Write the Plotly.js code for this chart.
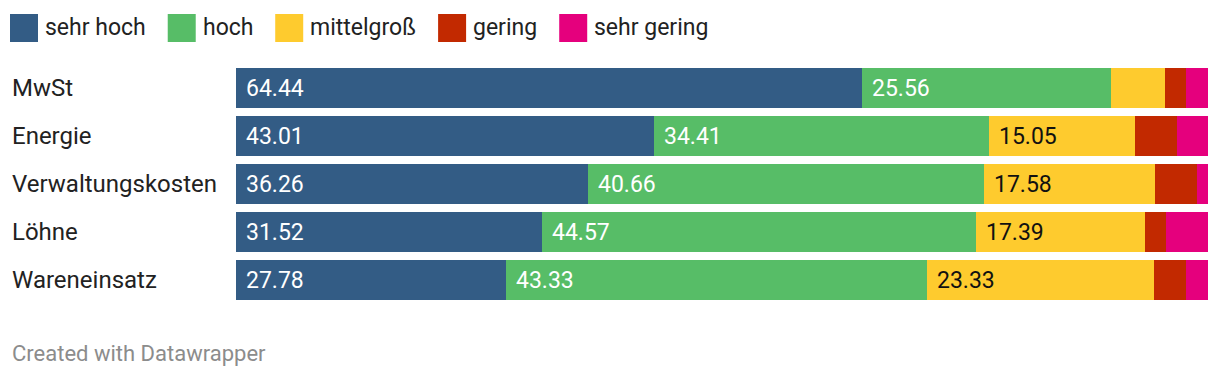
<!DOCTYPE html>
<html>
<head>
<meta charset="utf-8">
<script src="https://cdn.plot.ly/plotly-3.0.1.min.js"></script>
<style>
  html, body { margin: 0; padding: 0; background: #fff; }
  #chart { width: 1220px; height: 378px; }
</style>
</head>
<body>
<div id="chart"></div>
<script>
// ---- Data ----
const categories = ['MwSt', 'Energie', 'Verwaltungskosten', 'Löhne', 'Wareneinsatz'];
const seriesNames = ['sehr hoch', 'hoch', 'mittelgroß', 'gering', 'sehr gering'];
const sehrHoch = [64.44, 43.01, 36.26, 31.52, 27.78];
const hoch = [25.56, 34.41, 40.66, 44.57, 43.33];
const mittelgross = [5.56, 15.05, 17.58, 17.39, 23.33];
const gering = [2.22, 4.30, 4.40, 2.17, 3.33];
const sehrGering = [2.22, 3.23, 1.10, 4.35, 2.22];
const footerText = 'Created with Datawrapper';

// ---- Styling ----
const seriesValues = [sehrHoch, hoch, mittelgross, gering, sehrGering];
const colors = ['#335c85', '#57bd67', '#fecb2e', '#c22900', '#e5007d'];
const labelColors = ['#ffffff', '#ffffff', '#111111', '#ffffff', '#ffffff'];
const FONT = 'Roboto, "Noto Sans", sans-serif';
const W = 1220, H = 378;
const M = { l: 236, r: 12, t: 64, b: 74 };
const plotW = W - M.l - M.r, plotH = H - M.t - M.b;
const pxToPaperX = px => (px - M.l) / plotW;
const pxToPaperY = py => (H - M.b - py) / plotH;

const traces = seriesValues.map((vals, i) => ({
  type: 'bar',
  orientation: 'h',
  name: seriesNames[i],
  y: categories,
  x: vals,
  marker: { color: colors[i], line: { width: 0 } },
  hoverinfo: 'skip',
  showlegend: false
}));

const annotations = [];
const shapes = [];

// Category labels (left-aligned)
categories.forEach(c => {
  annotations.push({
    xref: 'paper', yref: 'y', x: pxToPaperX(12), y: c,
    xanchor: 'left', yanchor: 'middle', showarrow: false, borderpad: 0, borderwidth: 0,
    text: c, font: { family: FONT, size: 24, color: '#222222' }
  });
});

// Value labels inside segments
categories.forEach((c, ci) => {
  let cum = 0;
  seriesValues.forEach((vals, si) => {
    const v = vals[ci];
    if (v >= 10) {
      annotations.push({
        xref: 'x', yref: 'y', x: cum, y: c, xshift: 10,
        xanchor: 'left', yanchor: 'middle', showarrow: false, borderpad: 0, borderwidth: 0,
        text: v.toFixed(2), font: { family: FONT, size: 23, color: labelColors[si] }
      });
    }
    cum += v;
  });
});

// Custom legend
const ctx = document.createElement('canvas').getContext('2d');
ctx.font = '23px Roboto';
let lx = 10;
seriesNames.forEach((n, i) => {
  shapes.push({
    type: 'rect', xref: 'paper', yref: 'paper',
    x0: pxToPaperX(lx), x1: pxToPaperX(lx + 28),
    y0: pxToPaperY(42), y1: pxToPaperY(14),
    fillcolor: colors[i], line: { width: 0 }
  });
  annotations.push({
    xref: 'paper', yref: 'paper', x: pxToPaperX(lx + 35), y: pxToPaperY(27),
    xanchor: 'left', yanchor: 'middle', showarrow: false, borderpad: 0, borderwidth: 0,
    text: n, font: { family: FONT, size: 23, color: '#222222' }
  });
  lx += 28 + 7 + ctx.measureText(n).width + 22;
});

// Footer
annotations.push({
  xref: 'paper', yref: 'paper', x: pxToPaperX(12), y: pxToPaperY(353),
  xanchor: 'left', yanchor: 'middle', showarrow: false, borderpad: 0, borderwidth: 0,
  text: footerText, font: { family: FONT, size: 22, color: '#8c8c8c' }
});

const layout = {
  width: W, height: H,
  margin: M,
  paper_bgcolor: '#ffffff', plot_bgcolor: '#ffffff',
  barmode: 'stack',
  bargap: 8 / 48,
  showlegend: false,
  font: { family: FONT },
  xaxis: { range: [0, 100], visible: false, fixedrange: true },
  yaxis: { autorange: 'reversed', visible: false, fixedrange: true },
  annotations: annotations,
  shapes: shapes
};

Plotly.newPlot('chart', traces, layout, { displayModeBar: false, staticPlot: true });
</script>
</body>
</html>
